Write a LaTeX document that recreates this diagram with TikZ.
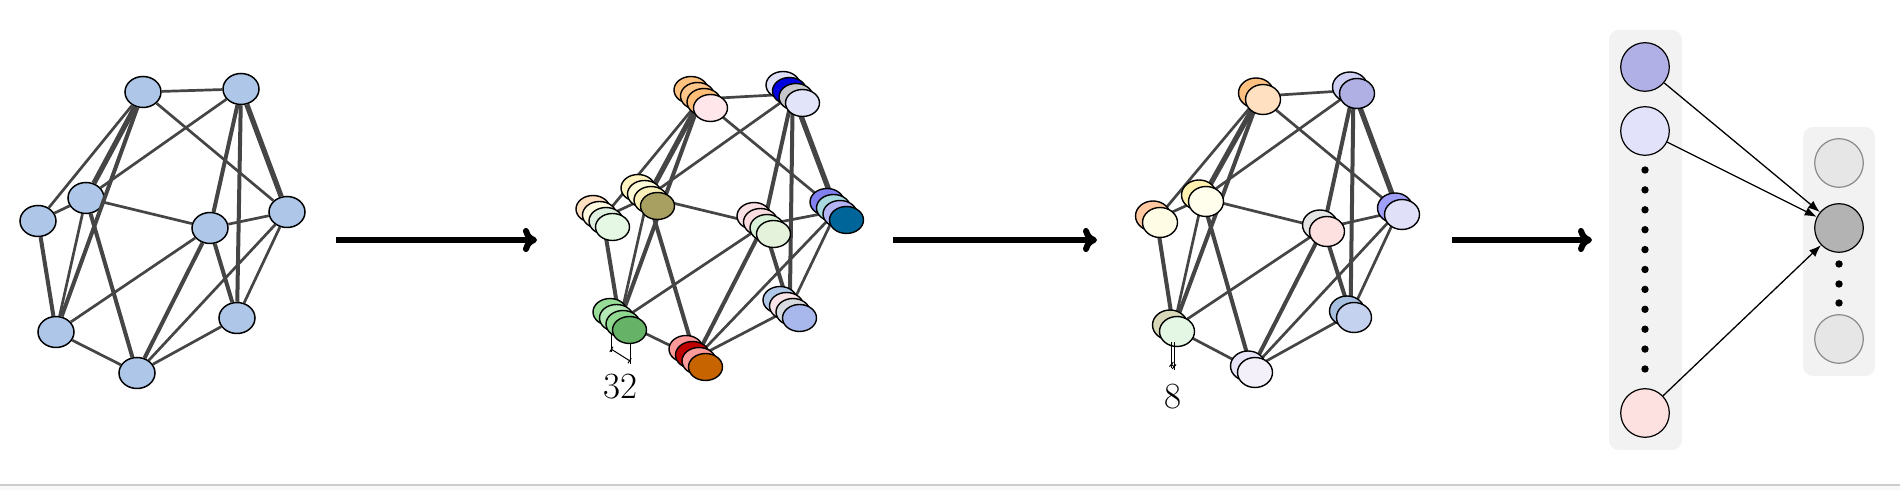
\documentclass[tikz,border=0pt]{standalone}
\usetikzlibrary{shapes.geometric,arrows.meta}
\definecolor{edgec}{HTML}{454545}
\definecolor{onefill}{HTML}{AEC7E8}
\definecolor{panelgray}{HTML}{F2F2F2}
\definecolor{ringgray}{HTML}{8A8A8A}
\definecolor{lightc}{HTML}{E6E6E6}
\definecolor{midc}{HTML}{B3B3B3}
\definecolor{lavA}{HTML}{B0B0E6}
\definecolor{lavB}{HTML}{E2E2FA}
\definecolor{pinkC}{HTML}{FDE0E0}
\definecolor{botline}{HTML}{CCCCCC}
\definecolor{botfill}{HTML}{F8F8F8}
\tikzset{
  e/.style={draw=edgec,line width=1.35pt},
  ek/.style={draw=edgec,line width=2pt},
  ekk/.style={draw=edgec,line width=2.6pt},
  gone/.style={ellipse,draw=black,line width=0.75pt,fill=onefill,minimum width=18pt,minimum height=15.5pt,inner sep=0pt},
  gtwo/.style={ellipse,draw=black,line width=0.7pt,minimum width=17pt,minimum height=13.5pt,inner sep=0pt},
  gthree/.style={ellipse,draw=black,line width=0.7pt,minimum width=17.5pt,minimum height=15pt,inner sep=0pt},
  bigarrow/.style={line width=3pt,-{To[length=7pt,width=12pt,round]}},
  fcirc/.style={circle,draw=black,line width=0.6pt,minimum size=24.3pt,inner sep=0pt},
  gcirc/.style={circle,draw=ringgray,line width=0.6pt,fill=lightc,minimum size=24.3pt,inner sep=0pt},
  dotn/.style={circle,fill=black,minimum size=3.7pt,inner sep=0pt},
  thinarrow/.style={line width=0.65pt,-{Latex[length=6pt,width=4.5pt]}},
  marker/.style={line width=0.5pt},
  tick/.style={line width=0.5pt,{Bar[width=3pt]}-{Bar[width=3pt]}},
  lbl/.style={font=\fontsize{18.5}{20}\selectfont,inner sep=0pt}
}
\newcommand\graphedges[1]{%
  \draw[e] (#1A) -- (#1B);
  \draw[e] (#1A) -- (#1C);
  \draw[e] (#1A) -- (#1F);
  \draw[ekk] (#1A) -- (#1E);
  \draw[ek] (#1A) -- (#1G);
  \draw[e] (#1B) -- (#1E);
  \draw[ek] (#1B) -- (#1D);
  \draw[ek] (#1B) -- (#1I);
  \draw[ekk] (#1B) -- (#1C);
  \draw[e] (#1E) -- (#1F);
  \draw[e] (#1E) -- (#1D);
  \draw[e] (#1E) -- (#1G);
  \draw[ek] (#1E) -- (#1H);
  \draw[ek] (#1F) -- (#1G);
  \draw[e] (#1G) -- (#1D);
  \draw[e] (#1G) -- (#1H);
  \draw[ek] (#1D) -- (#1H);
  \draw[ek] (#1D) -- (#1I);
  \draw[e] (#1D) -- (#1C);
  \draw[e] (#1C) -- (#1H);
  \draw[e] (#1C) -- (#1I);
  \draw[e] (#1I) -- (#1H);
}
% four-ellipse stack: name, x, y, colours back to front
\newcommand\fourstack[7]{%
  \definecolor{sa}{HTML}{#4}\definecolor{sb}{HTML}{#5}%
  \definecolor{sc}{HTML}{#6}\definecolor{sd}{HTML}{#7}%
  \node[gtwo,fill=sa] (#1-1) at (#2,#3) {};
  \node[gtwo,fill=sb] (#1-2) at (#2+6.5,#3+6) {};
  \node[gtwo,fill=sc] (#1-3) at (#2+13,#3+12) {};
  \node[gtwo,fill=sd] (#1-4) at (#2+19.5,#3+18) {};
}
\newcommand\twostack[5]{%
  \definecolor{sa}{HTML}{#4}\definecolor{sb}{HTML}{#5}%
  \node[gthree,fill=sa] (#1-1) at (#2,#3) {};
  \node[gthree,fill=sb] (#1-2) at (#2+7,#3+6.5) {};
}
\begin{document}
\begin{tikzpicture}[x=0.5pt,y=-0.5pt]
\useasboundingbox (0,0) rectangle (1900,490);
\fill[white] (0,0) rectangle (1900,490);
\fill[botfill] (0,485) rectangle (1900,490);
\draw[botline,line width=1pt] (0,485) -- (1900,485);

% ---------- graph 1 ----------
\node[gone] (oA) at (143,92) {};
\node[gone] (oB) at (241,89) {};
\node[gone] (oC) at (287,212) {};
\node[gone] (oD) at (210,228) {};
\node[gone] (oE) at (86,198) {};
\node[gone] (oF) at (38,221) {};
\node[gone] (oG) at (56,332) {};
\node[gone] (oH) at (137,373) {};
\node[gone] (oI) at (237,318) {};
\graphedges{o}

% ---------- graph 2 ----------
\coordinate (tA) at (691+9.75,90+9);
\coordinate (tB) at (783+9.75,85+9);
\coordinate (tC) at (827+9.75,202+9);
\coordinate (tD) at (754+9.75,216+9);
\coordinate (tE) at (638+9.75,188+9);
\coordinate (tF) at (593+9.75,209+9);
\coordinate (tG) at (610+9.75,312+9);
\coordinate (tH) at (686+9.75,349+9);
\coordinate (tI) at (780+9.75,300+9);
\graphedges{t}
\coordinate (m2a) at (611,330);
\coordinate (m2b) at (611,352);
\coordinate (m2c) at (630,343);
\coordinate (m2d) at (630,364);
\coordinate (m2e) at (611,349);
\coordinate (m2f) at (630,361);
\draw[marker] (m2a) -- (m2b);
\draw[marker] (m2c) -- (m2d);
\draw[tick] (m2e) -- (m2f);
\fourstack{pA}{691}{90}{FFC27F}{FFC68A}{FFBE78}{FFE6EA}
\fourstack{pB}{783}{85}{E0E0F8}{0000E0}{C8C8CC}{E2E4FA}
\fourstack{pC}{827}{202}{8080F0}{A8D8E0}{B4B4F4}{006699}
\fourstack{pD}{754}{216}{F8E0E4}{F8DCE0}{D8F0D8}{E4F2DC}
\fourstack{pE}{638}{188}{FFF4C0}{FFFCD8}{F8F0B8}{A8A060}
\fourstack{pF}{593}{209}{FFE0C0}{FFFAE0}{E0F0E0}{E4F8E4}
\fourstack{pG}{610}{312}{98DC98}{B4E8B4}{90D890}{66B266}
\fourstack{pH}{686}{349}{FF9999}{C00000}{FF9A9A}{C86400}
\fourstack{pI}{780}{300}{B0C8E8}{F8E4E8}{D8DCE0}{A8B8EC}
\node[lbl] (n32) at (620,387) {32};

% ---------- graph 3 ----------
\coordinate (sA) at (1256+3.5,93+3.25);
\coordinate (sB) at (1350+3.5,87+3.25);
\coordinate (sC) at (1395+3.5,208+3.25);
\coordinate (sD) at (1320+3.5,225+3.25);
\coordinate (sE) at (1199+3.5,195+3.25);
\coordinate (sF) at (1153+3.5,216+3.25);
\coordinate (sG) at (1170+3.5,325+3.25);
\coordinate (sH) at (1248+3.5,366+3.25);
\coordinate (sI) at (1347+3.5,311+3.25);
\graphedges{s}
\twostack{qA}{1256}{93}{FFC080}{FFE0C0}
\twostack{qB}{1350}{87}{D0D0F4}{B0B0E4}
\twostack{qC}{1395}{208}{A0A0F8}{E0E0F8}
\twostack{qD}{1320}{225}{E4E4E4}{FDE0E0}
\twostack{qE}{1199}{195}{FFF2B0}{FFFEEC}
\twostack{qF}{1153}{216}{FFC8A0}{FFFCE6}
\twostack{qG}{1170}{325}{D8D8B8}{E4F6E4}
\twostack{qH}{1248}{366}{E8E4F8}{F4F0FA}
\twostack{qI}{1347}{311}{A8C0E0}{C4D2F0}
\coordinate (m3a) at (1171,342);
\coordinate (m3b) at (1171,368);
\coordinate (m3c) at (1174.5,342);
\coordinate (m3d) at (1174.5,370);
\coordinate (m3e) at (1171,364);
\coordinate (m3f) at (1174.5,367);
\draw[marker] (m3a) -- (m3b);
\draw[marker] (m3c) -- (m3d);
\draw[tick] (m3e) -- (m3f);
\node[lbl] (n8) at (1173,397) {8};

% ---------- big arrows ----------
\coordinate (a1s) at (336,240); \coordinate (a1e) at (537,240);
\coordinate (a2s) at (893,240); \coordinate (a2e) at (1097,240);
\coordinate (a3s) at (1452,240); \coordinate (a3e) at (1592,240);
\draw[bigarrow] (a1s) -- (a1e);
\draw[bigarrow] (a2s) -- (a2e);
\draw[bigarrow] (a3s) -- (a3e);

% ---------- right panel ----------
\fill[panelgray,rounded corners=5pt] (1609,30) rectangle (1682,450);
\fill[panelgray,rounded corners=5pt] (1803,127) rectangle (1875,376);
\node[fcirc,fill=lavA] (L1) at (1645,67) {};
\node[fcirc,fill=lavB] (L2) at (1645,131) {};
\node[fcirc,fill=pinkC] (L3) at (1645,413) {};
\foreach \i in {0,...,10} {
  \node[dotn] (ld\i) at (1645,170+19.9*\i) {};
}
\node[gcirc] (R1) at (1839,163) {};
\node[fcirc,fill=midc] (R2) at (1839,228) {};
\node[gcirc] (R3) at (1839,339) {};
\node[dotn] (rd1) at (1839,264) {};
\node[dotn] (rd2) at (1839,284) {};
\node[dotn] (rd3) at (1839,303) {};
\draw[thinarrow] (L1) -- (R2);
\draw[thinarrow] (L2) -- (R2);
\draw[thinarrow] (L3) -- (R2);
\end{tikzpicture}
\end{document}
